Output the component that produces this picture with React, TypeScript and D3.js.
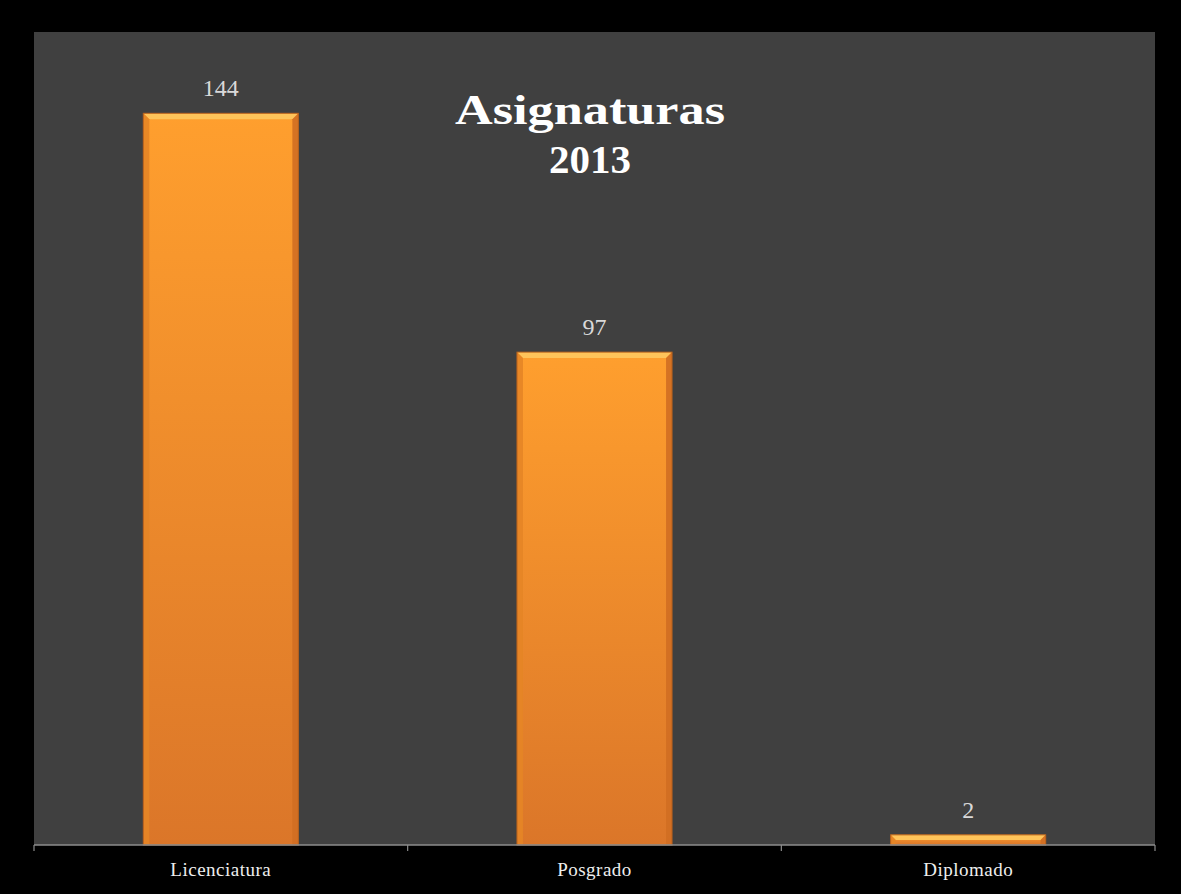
import React from "react";
import * as d3 from "d3";

const categories = ["Licenciatura", "Posgrado", "Diplomado"];
const values = [144, 97, 2];
const titleLines = ["Asignaturas", "2013"];

const W = 1181;
const H = 894;
const plot = { left: 34, right: 1155, top: 32, bottom: 845 };
const FONT = "'Liberation Serif', 'DejaVu Serif', serif";

export default function App() {
  const x = d3
    .scaleBand<string>()
    .domain(categories)
    .range([plot.left, plot.right])
    .paddingInner(0.585)
    .paddingOuter(0.2925);
  const y = d3.scaleLinear().domain([0, 160]).range([plot.bottom, plot.top]);
  const step = x.step();
  const ticks = d3.range(categories.length + 1).map((i) => plot.left + i * step);
  const bw = x.bandwidth();

  return (
    <svg
      width={W}
      height={H}
      style={{ position: "absolute", left: 0, top: 0, display: "block" }}
    >
      <defs>
        <linearGradient id="barFill" x1="0" y1="0" x2="0" y2="1">
          <stop offset="0%" stopColor="#ff9f2e" />
          <stop offset="100%" stopColor="#db7629" />
        </linearGradient>
      </defs>
      <rect x={0} y={0} width={W} height={H} fill="#000" />
      <rect
        x={plot.left}
        y={plot.top}
        width={plot.right - plot.left}
        height={plot.bottom - plot.top}
        fill="#404040"
      />
      {categories.map((c, i) => {
        const x0 = x(c)!;
        const y0 = y(values[i]);
        const h = plot.bottom - y0;
        const b = Math.min(6, h / 2);
        const x1 = x0 + bw;
        return (
          <g key={c}>
            <rect x={x0} y={y0} width={bw} height={h} fill="url(#barFill)" />
            <polygon
              points={`${x0},${y0} ${x1},${y0} ${x1 - b},${y0 + b} ${x0 + b},${y0 + b}`}
              fill="#ffc45a"
            />
            <polygon
              points={`${x0},${y0} ${x0 + b},${y0 + b} ${x0 + b},${plot.bottom} ${x0},${plot.bottom}`}
              fill="#e58526"
              opacity={0.9}
            />
            <polygon
              points={`${x1},${y0} ${x1 - b},${y0 + b} ${x1 - b},${plot.bottom} ${x1},${plot.bottom}`}
              fill="#d06e22"
              opacity={0.9}
            />
            <rect
              x={x0}
              y={y0}
              width={bw}
              height={h}
              fill="none"
              stroke="#b5601d"
              strokeWidth={1}
            />
            <text
              x={x0 + bw / 2}
              y={y0 - 17}
              textAnchor="middle"
              fontFamily={FONT}
              fontSize={24}
              fill="#d9d9d9"
            >
              {values[i]}
            </text>
            <text
              x={x0 + bw / 2}
              y={876}
              textAnchor="middle"
              fontFamily={FONT}
              fontSize={19}
              letterSpacing={0.5}
              fill="#eeeeee"
            >
              {c}
            </text>
          </g>
        );
      })}
      <line
        x1={plot.left}
        x2={plot.right}
        y1={plot.bottom}
        y2={plot.bottom}
        stroke="#8c8c8c"
        strokeWidth={1.5}
      />
      {ticks.map((t, i) => (
        <line
          key={i}
          x1={t}
          x2={t}
          y1={plot.bottom}
          y2={plot.bottom + 6}
          stroke="#8c8c8c"
          strokeWidth={1.2}
        />
      ))}
      <text
        x={590}
        y={124}
        textAnchor="middle"
        fontFamily={FONT}
        fontWeight="bold"
        fontSize={42}
        textLength={270}
        lengthAdjust="spacingAndGlyphs"
        fill="#ffffff"
      >
        {titleLines[0]}
      </text>
      <text
        x={590}
        y={173}
        textAnchor="middle"
        fontFamily={FONT}
        fontWeight="bold"
        fontSize={41}
        fill="#ffffff"
      >
        {titleLines[1]}
      </text>
    </svg>
  );
}
